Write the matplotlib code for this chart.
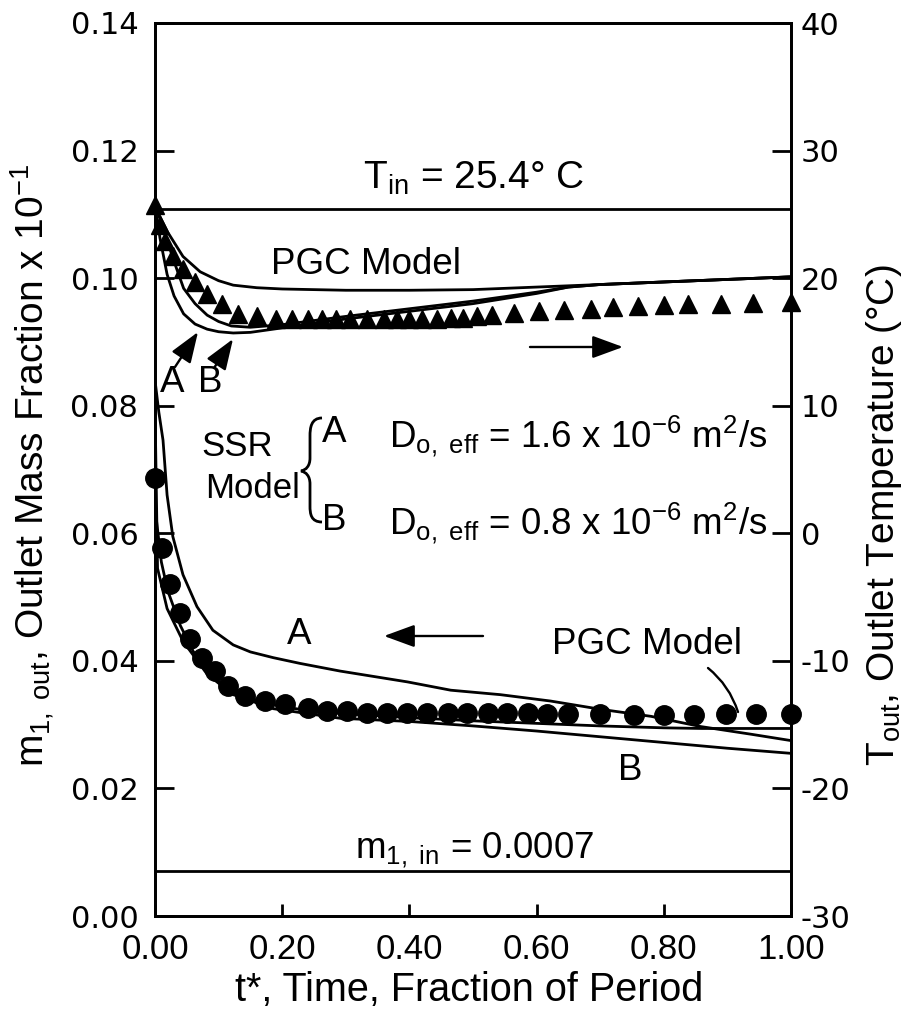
import matplotlib
matplotlib.use('Agg')
import matplotlib.pyplot as plt
from matplotlib.path import Path
import matplotlib.patches as mpatches

plt.rcParams['axes.unicode_minus'] = False
plt.rcParams['mathtext.fontset'] = 'custom'
plt.rcParams['mathtext.rm'] = 'Liberation Sans'
plt.rcParams['mathtext.it'] = 'Liberation Sans:italic'
plt.rcParams['mathtext.bf'] = 'Liberation Sans:bold'
plt.rcParams['font.family'] = ['Liberation Sans', 'DejaVu Sans']

# ---------------- data ----------------
# outlet temperature (triangles), right axis, deg C
tri_t = [0.0, 0.008, 0.016, 0.028, 0.044, 0.063, 0.082, 0.106, 0.13, 0.16, 0.19, 0.215,
         0.24, 0.263, 0.285, 0.307, 0.334, 0.36, 0.381, 0.40, 0.42, 0.444, 0.465, 0.485,
         0.507, 0.53, 0.564, 0.603, 0.643, 0.685, 0.72, 0.76, 0.80, 0.838, 0.89, 0.94, 1.0]
tri_T = [25.7, 24.2, 22.9, 21.75, 20.7, 19.7, 18.75, 17.95, 17.2, 17.0, 16.8, 16.8,
         16.8, 16.8, 16.8, 16.8, 16.8, 16.8, 16.8, 16.8, 16.8, 16.8, 16.85, 16.9,
         17.0, 17.1, 17.3, 17.4, 17.5, 17.6, 17.7, 17.8, 17.9, 17.95, 18.0, 18.05, 18.1]

# outlet mass fraction (circles), left axis
circ_t = [0.0, 0.011, 0.024, 0.039, 0.055, 0.074, 0.094, 0.115, 0.142, 0.173, 0.205, 0.241,
          0.271, 0.302, 0.334, 0.365, 0.397, 0.428, 0.46, 0.491, 0.523, 0.554, 0.586, 0.617,
          0.649, 0.70, 0.753, 0.80, 0.847, 0.898, 0.945, 1.0]
circ_m = [0.0686, 0.0577, 0.0521, 0.0475, 0.0434, 0.0404, 0.0384, 0.0360, 0.0345, 0.0337,
          0.0332, 0.0326, 0.0322, 0.0321, 0.0319, 0.0318, 0.0318, 0.0318, 0.0318, 0.0318,
          0.0318, 0.0318, 0.0318, 0.0317, 0.0317, 0.0317, 0.0315, 0.0315, 0.0315, 0.0317,
          0.0317, 0.0317]

# mass-fraction model curves
mA_t = [0.0, 0.006, 0.0126, 0.019, 0.028, 0.044, 0.066, 0.091, 0.123, 0.15, 0.186, 0.228,
        0.291, 0.397, 0.465, 0.543, 0.622, 0.701, 0.78, 0.858, 0.937, 1.0]
mA = [0.084, 0.079, 0.0746, 0.066, 0.0595, 0.0535, 0.0485, 0.0448, 0.0425, 0.0414, 0.0405,
      0.0396, 0.0384, 0.0367, 0.0354, 0.0347, 0.0337, 0.0324, 0.0313, 0.0297, 0.0285, 0.0275]
mB_t = [0.0, 0.004, 0.019, 0.044, 0.082, 0.123, 0.186, 0.291, 0.4, 0.5, 0.6, 0.7, 0.8, 0.9, 1.0]
mB = [0.080, 0.0545, 0.0482, 0.0431, 0.0379, 0.0347, 0.0325, 0.0310, 0.0305, 0.0298,
      0.0290, 0.0281, 0.0272, 0.0263, 0.0255]
mP_t = [0.0, 0.01, 0.02, 0.04, 0.06, 0.08, 0.1, 0.13, 0.17, 0.2, 0.25, 0.3, 0.4, 0.5,
        0.6, 0.7, 0.8, 0.86, 0.93, 1.0]
mP = [0.064, 0.0555, 0.051, 0.0455, 0.0415, 0.0387, 0.0367, 0.0348, 0.0335, 0.0328, 0.0321,
      0.0317, 0.0311, 0.0306, 0.0302, 0.0298, 0.0295, 0.0294, 0.0294, 0.0294]

# temperature model curves
TP_t = [0.0, 0.02, 0.044, 0.071, 0.1, 0.123, 0.16, 0.2, 0.3, 0.4, 0.5, 0.6, 0.7, 0.8, 0.9, 1.0]
TP = [25.6, 23.6, 21.7, 20.5, 19.8, 19.45, 19.25, 19.15, 19.05, 19.05, 19.1, 19.3, 19.5,
      19.7, 19.9, 20.1]
TA_t = [0.0, 0.008, 0.019, 0.03, 0.045, 0.063, 0.082, 0.1, 0.123, 0.15, 0.2, 0.3, 0.4, 0.5,
        0.6, 0.65, 0.7, 0.8, 0.9, 1.0]
TA = [25.6, 23.1, 20.3, 18.6, 17.2, 16.4, 16.0, 15.8, 15.7, 15.75, 16.1, 16.8, 17.4, 18.0,
      18.8, 19.3, 19.5, 19.7, 19.9, 20.1]
TB_t = [0.0, 0.01, 0.02, 0.03, 0.045, 0.063, 0.082, 0.1, 0.12, 0.15, 0.2, 0.3, 0.4, 0.5,
        0.6, 0.65, 0.7, 0.8, 0.9, 1.0]
TB = [25.6, 24.4, 22.8, 21.3, 19.2, 18.0, 17.1, 16.6, 16.25, 16.15, 16.35, 17.0, 17.6, 18.2,
      18.9, 19.3, 19.5, 19.7, 19.9, 20.1]

T_in = 25.4
m_in = 0.007

x_ticks = [0.0, 0.2, 0.4, 0.6, 0.8, 1.0]
x_ticklabels = ['0.00', '0.20', '0.40', '0.60', '0.80', '1.00']
yl_ticks = [0.0, 0.02, 0.04, 0.06, 0.08, 0.10, 0.12, 0.14]
yl_ticklabels = ['0.00', '0.02', '0.04', '0.06', '0.08', '0.10', '0.12', '0.14']
yr_ticks = [-30, -20, -10, 0, 10, 20, 30, 40]
yr_ticklabels = ['-30', '-20', '-10', '0', '10', '20', '30', '40']

# ---------------- figure ----------------
W, H = 911, 1021
fig = plt.figure(figsize=(W / 100, H / 100), dpi=100)
L, R, T, B = 155, 791, 23, 916
ax = fig.add_axes([L / W, 1 - B / H, (R - L) / W, (B - T) / H])
ax2 = ax.twinx()


def P(x, y):
    return (x / W, 1 - y / H)


LW = 2.0
ax.set_xlim(0, 1)
ax.set_ylim(0, 0.14)
ax2.set_ylim(-30, 40)

for a in (ax, ax2):
    for s in a.spines.values():
        s.set_linewidth(LW)
        s.set_color('black')

ax.set_xticks(x_ticks)
ax.set_xticklabels(x_ticklabels)
ax.set_yticks(yl_ticks)
ax.set_yticklabels(yl_ticklabels)
ax2.set_yticks(yr_ticks)
ax2.set_yticklabels(yr_ticklabels)

ax.tick_params(axis='x', direction='in', length=9, width=LW, pad=12, labelsize=25, top=False)
ax.tick_params(axis='y', direction='in', length=14, width=LW, pad=12, labelsize=22, right=False)
ax2.tick_params(axis='y', direction='in', length=14, width=LW, pad=7, labelsize=22)
for lbl in ax.get_yticklabels() + ax2.get_yticklabels():
    lbl.set_family('DejaVu Sans')

# reference lines
ax.axhline(m_in, color='black', lw=LW)
ax2.axhline(T_in, color='black', lw=LW)

# mass fraction
ax.plot(mA_t, mA, color='black', lw=LW)
ax.plot(mB_t, mB, color='black', lw=LW)
ax.plot(mP_t, mP, color='black', lw=LW)
ax.plot(circ_t, circ_m, 'o', color='black', ms=14, clip_on=False)

# temperature
ax2.plot(TP_t, TP, color='black', lw=LW)
ax2.plot(TA_t, TA, color='black', lw=LW)
ax2.plot(TB_t, TB, color='black', lw=LW)
ax2.plot(tri_t, tri_T, '^', color='black', ms=13, clip_on=False)

# ---------------- annotations ----------------
FS = 26.5
tx = dict(transform=fig.transFigure, ha='center', va='center', fontsize=FS)
fig.text(*P(474, 178), r'T$_{\mathregular{in}}$ = 25.4° C', transform=fig.transFigure,
         ha='center', va='center', fontsize=28)
fig.text(*P(366, 264), 'PGC Model', **tx)
fig.text(*P(172, 382), 'A', **tx)
fig.text(*P(210, 382), 'B', **tx)
fig.text(*P(237, 446), 'SSR', transform=fig.transFigure, ha='center', va='center', fontsize=25)
fig.text(*P(253, 489), 'Model', transform=fig.transFigure, ha='center', va='center', fontsize=25)
fig.text(*P(334, 433), 'A', **tx)
fig.text(*P(334, 521), 'B', **tx)
fig.text(*P(389, 436), r'D$_{\mathregular{o,\ eff}}$ = 1.6 x 10$^{\mathregular{-6}}$ m$^{\mathregular{2}}$/s',
         transform=fig.transFigure, ha='left', va='center', fontsize=FS)
fig.text(*P(389, 523), r'D$_{\mathregular{o,\ eff}}$ = 0.8 x 10$^{\mathregular{-6}}$ m$^{\mathregular{2}}$/s',
         transform=fig.transFigure, ha='left', va='center', fontsize=FS)
fig.text(*P(299, 634), 'A', **tx)
fig.text(*P(647, 645), 'PGC Model', **tx)
fig.text(*P(630, 770), 'B', **tx)
fig.text(*P(475, 850), r'm$_{\mathregular{1,\ in}}$ = 0.0007', **tx)

# axis labels
fig.text(*P(469, 990), 't*, Time, Fraction of Period', transform=fig.transFigure,
         ha='center', va='center', fontsize=28.5)
fig.text(*P(32, 465), r'm$_{\mathregular{1,\ out}}$, Outlet Mass Fraction x 10$^{\mathregular{-1}}$',
         transform=fig.transFigure, ha='center', va='center', fontsize=28, rotation=90)
fig.text(*P(884, 515), r'T$_{\mathregular{out}}$, Outlet Temperature (°C)',
         transform=fig.transFigure, ha='center', va='center', fontsize=28, rotation=90)

# arrows
def arrow(x0, y0, x1, y1, head=True, rad=0.0):
    style = '-|>,head_length=0.9,head_width=0.33' if head else '-'
    fig.patches.append(mpatches.FancyArrowPatch(
        P(x0, y0), P(x1, y1), transform=fig.transFigure, arrowstyle=style,
        mutation_scale=21, color='black', lw=1.7,
        connectionstyle=f'arc3,rad={rad}', shrinkA=0, shrinkB=0))

arrow(175, 367, 198, 332)
arrow(214, 368, 233, 339)
arrow(530, 347, 623, 347)
arrow(483, 636, 384, 636)
arrow(708, 668, 738, 712, head=False, rad=-0.15)

# brace
verts = [P(322, 418), P(311, 418), P(310, 428), P(310, 436),
         P(310, 458),
         P(310, 466), P(306, 470), P(301, 471),
         P(306, 472), P(310, 476), P(310, 484),
         P(310, 506),
         P(310, 514), P(311, 522), P(322, 522)]
codes = [Path.MOVETO, Path.CURVE4, Path.CURVE4, Path.CURVE4,
         Path.LINETO,
         Path.CURVE4, Path.CURVE4, Path.CURVE4,
         Path.CURVE4, Path.CURVE4, Path.CURVE4,
         Path.LINETO,
         Path.CURVE4, Path.CURVE4, Path.CURVE4]
fig.patches.append(mpatches.PathPatch(Path(verts, codes), transform=fig.transFigure,
                                      fill=False, lw=2.0, color='black'))

fig.savefig('out.png', dpi=100)
